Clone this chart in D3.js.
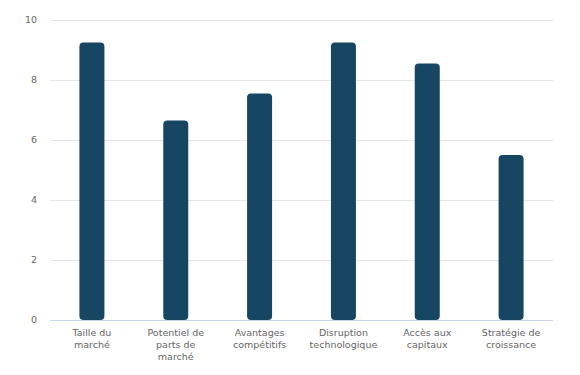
<!DOCTYPE html>
<html>
<head>
<meta charset="utf-8">
<script src="https://cdn.jsdelivr.net/npm/d3@7"></script>
<style>
    body { margin: 0; background: #fff; }
    .label { font-family: "DejaVu Sans", sans-serif; font-size: 9.5px; fill: #666; }
</style>
</head>
<body>
<svg id="chart" width="580" height="375"></svg>
<script>
// Chart data
let categories = [
    ["Taille du", "marché"],
    ["Potentiel de", "parts de", "marché"],
    ["Avantages", "compétitifs"],
    ["Disruption", "technologique"],
    ["Accès aux", "capitaux"],
    ["Stratégie de", "croissance"]
];
let values = [9.25, 6.65, 7.55, 9.25, 8.55, 5.5];
let yTicks = [0, 2, 4, 6, 8, 10];

let margin = {left: 50, right: 27, top: 20, bottom: 55};
let width = 580, height = 375;

let svg = d3.select("#chart");

let x = d3.scaleBand()
    .domain(d3.range(categories.length))
    .range([margin.left, width - margin.right]);

let y = d3.scaleLinear()
    .domain([0, 10])
    .range([height - margin.bottom, margin.top]);

// Grid lines
svg.selectAll(".grid").data(yTicks)
    .enter().append("line")
    .attr("class", "grid")
    .attr("x1", margin.left)
    .attr("x2", width - margin.right)
    .attr("y1", function(d) { return y(d) + 0.5; })
    .attr("y2", function(d) { return y(d) + 0.5; })
    .style("stroke", function(d) { return d === 0 ? "#ccd6eb" : "#e6e6e6"; })
    .style("stroke-width", 1);

// Y tick labels
svg.selectAll(".ytick").data(yTicks)
    .enter().append("text")
    .attr("class", "label")
    .attr("x", 37)
    .attr("y", function(d) { return y(d); })
    .attr("text-anchor", "end")
    .attr("dominant-baseline", "middle")
    .text(function(d) { return d; });

// Bars
let barWidth = 25;
svg.selectAll(".bar").data(values)
    .enter().append("rect")
    .attr("class", "bar")
    .attr("x", function(d, i) { return x(i) + x.bandwidth()/2 - barWidth/2; })
    .attr("y", function(d) { return y(d); })
    .attr("width", barWidth)
    .attr("height", function(d) { return y(0) - y(d); })
    .attr("rx", 4)
    .attr("ry", 4)
    .style("fill", "#174662");

// Category labels
let catGroups = svg.selectAll(".cat").data(categories)
    .enter().append("text")
    .attr("class", "label")
    .attr("text-anchor", "middle")
    .attr("transform", function(d, i) {
        return "translate(" + (x(i) + x.bandwidth()/2) + "," + (y(0) + 13) + ")";
    });

catGroups.selectAll("tspan").data(function(d) { return d; })
    .enter().append("tspan")
    .attr("x", 0)
    .attr("y", function(d, i) { return i * 12.4; })
    .attr("dominant-baseline", "middle")
    .text(function(d) { return d; });
</script>
</body>
</html>
